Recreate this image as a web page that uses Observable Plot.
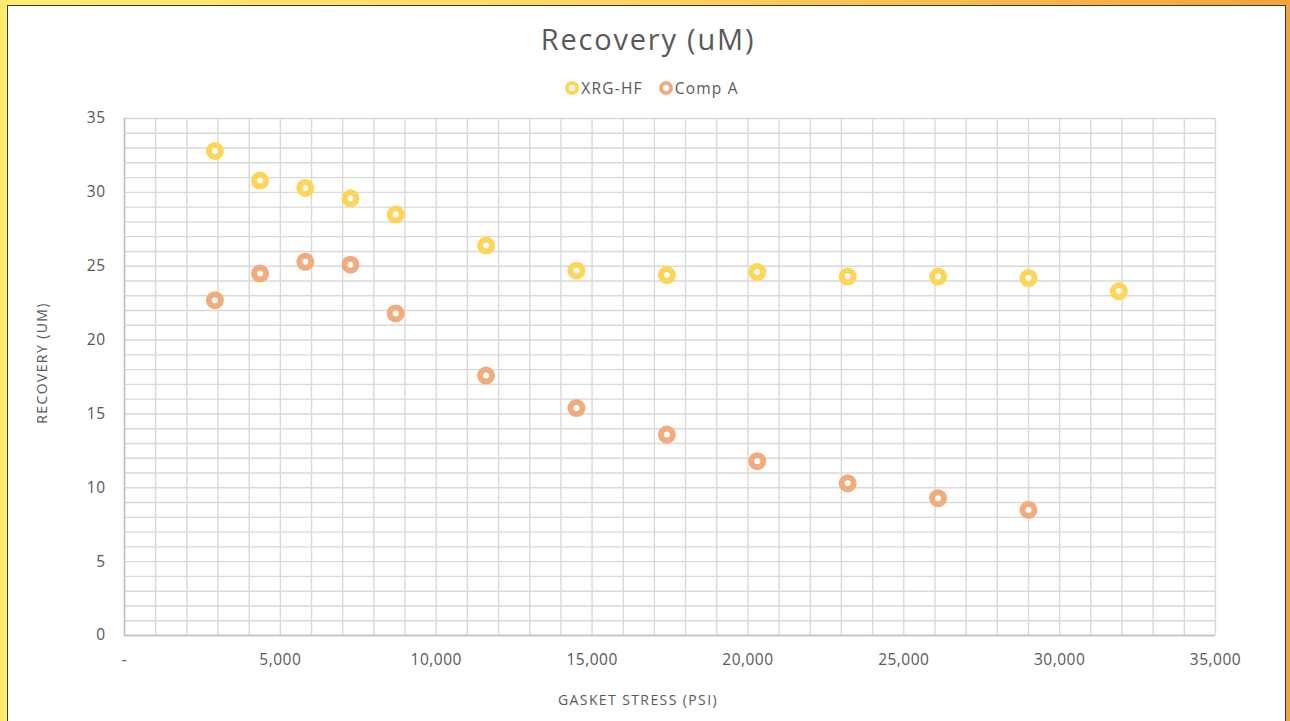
<!DOCTYPE html>
<html>
<head>
<meta charset="utf-8">
<script src="https://cdn.jsdelivr.net/npm/d3@7"></script>
<script src="https://cdn.jsdelivr.net/npm/@observablehq/plot@0.6"></script>
<style>
  html, body { margin: 0; padding: 0; background: #fff; }
  #frame { position: relative; width: 1290px; height: 721px; overflow: hidden;
    background: linear-gradient(90deg, #FFEB70 0%, #FFD860 45%, #F2A43A 100%); }
  #inner { position: absolute; left: 7px; top: 5px; width: 1279px; height: 730px;
    background: #fff; border: 1px solid #3a3a3a; box-sizing: border-box; }
  #chart { position: absolute; left: 0; top: 0; }
  #title { position: absolute; left: 0; width: 1296px; top: 19px; text-align: center;
    font-family: "Open Sans", sans-serif; font-size: 29px; color: #595959; letter-spacing: 1.8px; }
  #legend { position: absolute; left: 0; width: 1304px; top: 77px; text-align: center;
    font-family: "Open Sans", sans-serif; font-size: 15.5px; color: #595959; letter-spacing: 1.2px; }
  .item { display: inline-flex; align-items: center; margin: 0 8px; }
  .sw { display: inline-block; width: 6px; height: 6px; border-radius: 50%;
    background: #fff; border-width: 4.5px; border-style: solid; margin-right: 2px; }
</style>
</head>
<body>
<div id="frame">
  <div id="inner"></div>
  <div id="chart"></div>
  <div id="title">Recovery (uM)</div>
  <div id="legend"></div>
</div>
<script>
const seriesNames = ["XRG-HF", "Comp A"];
const seriesColors = ["#FFD558", "#F1AC7E"];
const xrgStress = [2900, 4350, 5800, 7250, 8700, 11600, 14500, 17400, 20300, 23200, 26100, 29000, 31900];
const xrgRecovery = [32.8, 30.8, 30.3, 29.6, 28.5, 26.4, 24.7, 24.4, 24.6, 24.3, 24.3, 24.2, 23.3];
const compStress = [2900, 4350, 5800, 7250, 8700, 11600, 14500, 17400, 20300, 23200, 26100, 29000];
const compRecovery = [22.7, 24.5, 25.3, 25.1, 21.8, 17.6, 15.4, 13.6, 11.8, 10.3, 9.3, 8.5];
const xTickLabels = [0, 5000, 10000, 15000, 20000, 25000, 30000, 35000];
const yTickLabels = [0, 5, 10, 15, 20, 25, 30, 35];
const xGrid = d3.range(0, 35001, 1000);
const yGrid = d3.range(0, 36, 1);
const xTitle = "GASKET STRESS (PSI)";
const yTitle = "RECOVERY (UM)";

const data = [
  ...xrgStress.map((s, i) => ({series: seriesNames[0], stress: s, recovery: xrgRecovery[i]})),
  ...compStress.map((s, i) => ({series: seriesNames[1], stress: s, recovery: compRecovery[i]}))
];

const fmt = d => d === 0 ? "-" : d3.format(",")(d);

const chart = Plot.plot({
  width: 1290,
  height: 721,
  marginLeft: 124,
  marginRight: 75,
  marginTop: 118,
  marginBottom: 86,
  style: {fontFamily: "Open Sans, sans-serif", fontSize: "15.5px", color: "#595959", background: "transparent", overflow: "visible"},
  x: {domain: [0, 35000]},
  y: {domain: [0, 35]},
  color: {domain: seriesNames, range: seriesColors},
  marks: [
    Plot.ruleX(xGrid, {stroke: "#D9D9D9", strokeWidth: 1.4}),
    Plot.ruleY(yGrid, {stroke: "#D9D9D9", strokeWidth: 1.4}),
    Plot.ruleX([0], {stroke: "#BFBFBF", strokeWidth: 1.5}),
    Plot.ruleY([0], {stroke: "#BFBFBF", strokeWidth: 1.5}),
    Plot.axisX({ticks: xTickLabels, tickFormat: fmt, tickSize: 0, tickPadding: 18, label: null, fontSize: 15.5}),
    Plot.axisY({ticks: yTickLabels, tickSize: 0, tickPadding: 19, label: null, fontSize: 15.5}),
    Plot.text([xTitle], {frameAnchor: "bottom", textAnchor: "middle", lineAnchor: "middle", dy: 65, dx: -32, fontSize: 14, fill: "#595959"}),
    Plot.text([yTitle], {frameAnchor: "left", textAnchor: "middle", lineAnchor: "middle", dx: -82, dy: -14, rotate: -90, fontSize: 14, fill: "#595959"}),
    Plot.dot(data, {x: "stress", y: "recovery", stroke: "series", fill: "white", r: 6, strokeWidth: 6})
  ]
});
document.getElementById("chart").appendChild(chart);

chart.querySelectorAll("g[aria-label='x-axis tick label'] text, g[aria-label='y-axis tick label'] text")
  .forEach(t => t.style.letterSpacing = "0.5px");
chart.querySelectorAll("g[aria-label='text'] text").forEach(t => t.style.letterSpacing = "1.4px");

const legend = document.getElementById("legend");
seriesNames.forEach((n, i) => {
  const it = document.createElement("span");
  it.className = "item";
  const sw = document.createElement("span");
  sw.className = "sw";
  sw.style.borderColor = seriesColors[i];
  it.appendChild(sw);
  it.appendChild(document.createTextNode(n));
  legend.appendChild(it);
});
</script>
</body>
</html>
